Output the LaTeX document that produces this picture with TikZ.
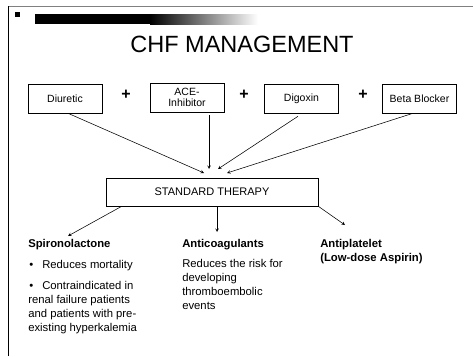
\documentclass[tikz,border=0pt]{standalone}
\usepackage{fontspec}
\setmainfont{Liberation Sans}
\begin{document}
\begin{tikzpicture}[x=1pt, y=-1pt, >=stealth, line width=0.55pt,
	drug/.style={rectangle, draw, minimum width=74pt, minimum height=29pt, inner sep=1pt, align=center, font=\fontsize{10.5}{11}\selectfont},
	body/.style={anchor=base west, inner sep=0pt, font=\fontsize{11.3}{13}\selectfont},
	head/.style={anchor=base west, inner sep=0pt, font=\fontsize{11.3}{13}\selectfont\bfseries}]
			
			\useasboundingbox (0,0) rectangle (473,356);
			
			% Slide frame
			\draw[line width=1.2pt] (8.5,356) -- (8.5,6);
			\draw[gray, line width=0.6pt] (8.5,6) -- (473,6);
			\fill (15,12) rectangle (20,17);
			\fill (35,14) rectangle (150,24);
			\shade[left color=black, right color=white] (150,14) rectangle (258,24);
			
			% Title
			\node (title) at (242,44) {\fontsize{23.5}{24}\selectfont CHF MANAGEMENT};
			
			% Drug boxes
			\node[drug] (diuretic) at (65,98.5) {Diuretic};
			\node[drug] (ace) at (187,97.5) {ACE-\\Inhibitor};
			\node[drug] (digoxin) at (301.5,98.5) {Digoxin};
			\node[drug] (beta) at (419.5,98.5) {Beta Blocker};
			
			% Plus signs
			\foreach \x [count=\i] in {126,244,363}
			\node (plus\i) at (\x,95) {\fontsize{16}{16}\selectfont\bfseries +};
			
			% Standard therapy
			\node[draw, minimum width=212pt, minimum height=28pt, font=\fontsize{11}{11}\selectfont] (therapy) at (212,192) {STANDARD THERAPY};
			
			% Arrow ends
			\coordinate (in1) at (204,173);
			\coordinate (in2) at (209,169);
			\coordinate (in3) at (218,169);
			\coordinate (in4) at (227,173);
			\coordinate (out1) at (68,236);
			\coordinate (out2) at (217,232);
			\coordinate (out3) at (345,225);
			
			% Connections drugs -> standard therapy
			\draw[->] ([xshift=3pt]diuretic.south) -- (in1);
			\draw[->] ([xshift=22pt, yshift=-3pt]ace.south) -- (in2);
			\draw[->] ([xshift=-3.5pt, yshift=-3pt]digoxin.south) -- (in3);
			\draw[->] ([xshift=-6.5pt]beta.south) -- (in4);
			
			% Connections standard therapy -> options
			\draw[->] ([xshift=16pt]therapy.south west) -- (out1);
			\draw[->] ([xshift=5pt]therapy.south) -- (out2);
			\draw[->] (therapy.south east) -- (out3);
			
			% Spironolactone
			\node[head] (spiro) at (28,247) {Spironolactone};
			\node[body] (spiro1) at (29,268) {\makebox[13pt][l]{\textbullet}Reduces mortality};
			\foreach \t [count=\i] in {{\makebox[13pt][l]{\textbullet}Contraindicated in}, renal failure patients, and patients with pre-, existing hyperkalemia}
			\node[body] (spiro2\i) at (\ifnum\i=1 29\else 28\fi,275+14*\i) {\t};
			
			% Anticoagulants
			\node[head] (anticoag) at (182,247) {Anticoagulants};
			\foreach \t [count=\i] in {Reduces the risk for, developing, thromboembolic, events}
			\node[body] (anticoag\i) at (182,253+14*\i) {\t};
			
			% Antiplatelet
			\node[head] (antiplt1) at (320,247) {Antiplatelet};
			\node[head] (antiplt2) at (320,261) {(Low-dose Aspirin)};
			
		\end{tikzpicture}
\end{document}
